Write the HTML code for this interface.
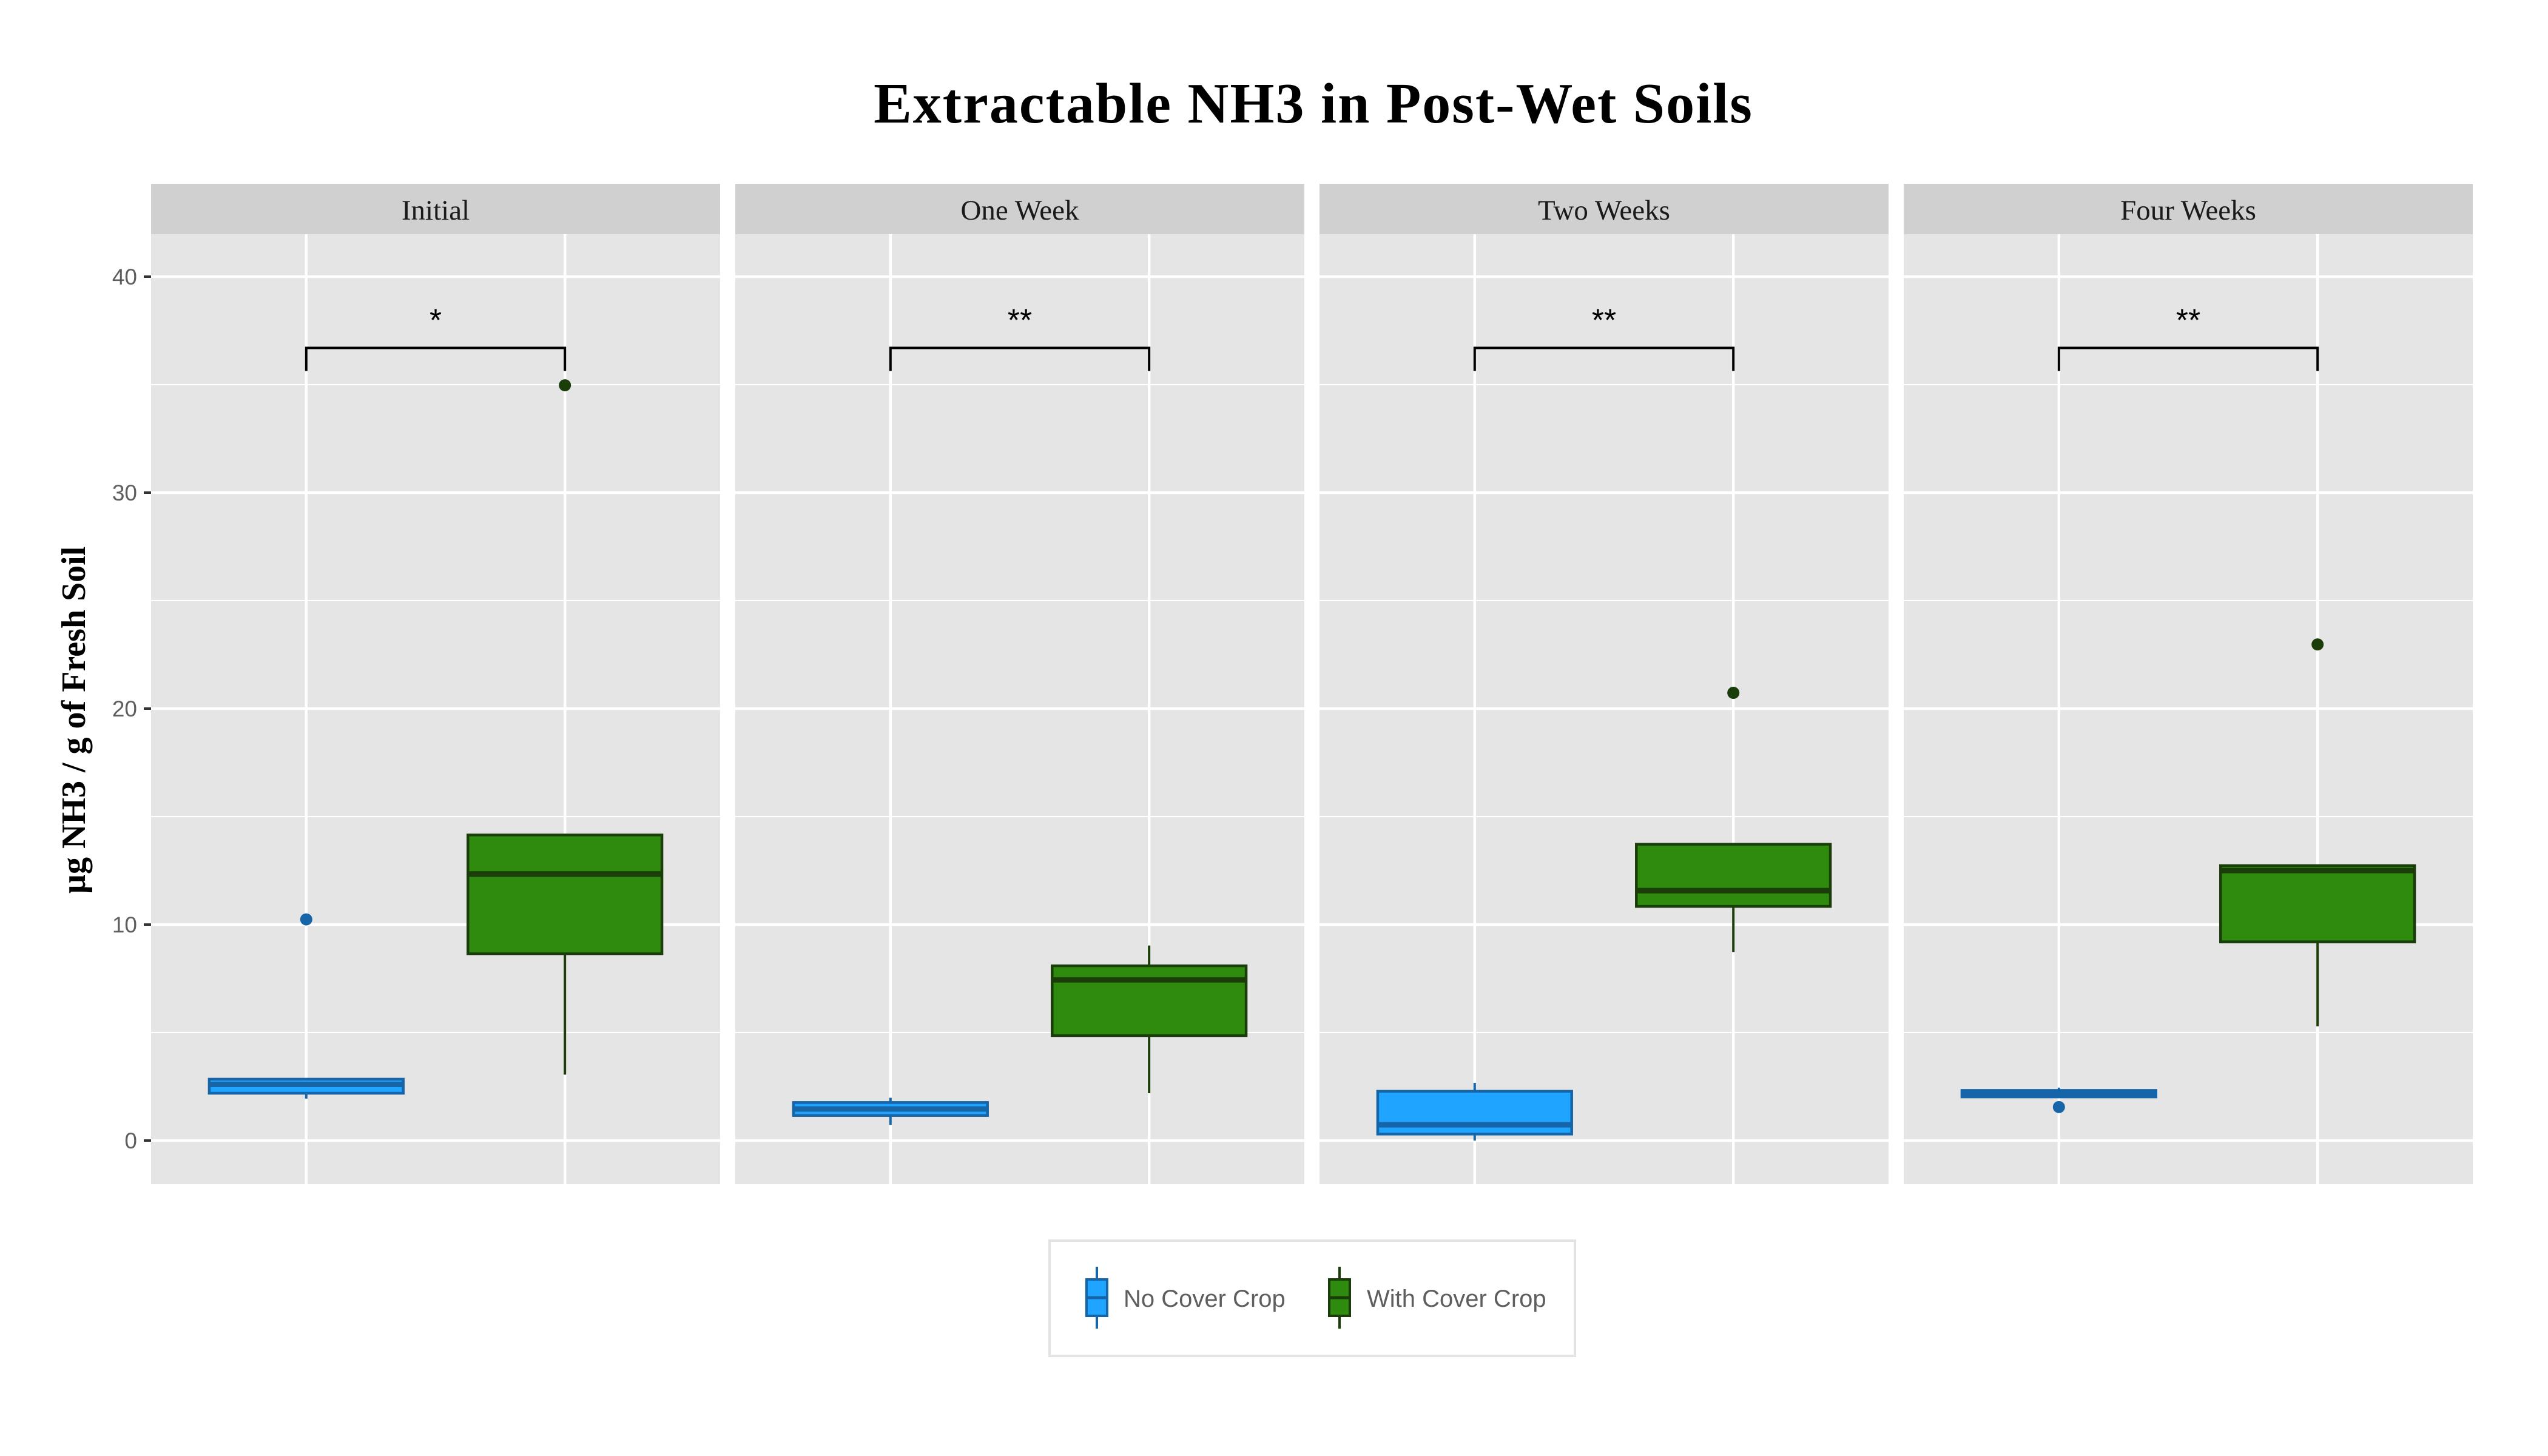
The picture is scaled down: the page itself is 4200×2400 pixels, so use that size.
<!DOCTYPE html>
<html><head><meta charset="utf-8"><style>
html,body{margin:0;padding:0;background:#fff;}
svg{display:block;}
</style></head><body>
<svg id="chart" width="4200" height="2400" viewBox="0 0 4200 2400" xmlns="http://www.w3.org/2000/svg">
<text x="2165" y="202" text-anchor="middle" font-family="Liberation Serif, serif" font-weight="bold" font-size="94" letter-spacing="2" fill="#000">Extractable NH3 in Post-Wet Soils</text>
<text transform="translate(140,1187) rotate(-90)" text-anchor="middle" font-family="Liberation Serif, serif" font-weight="bold" font-size="56" fill="#000">µg NH3 / g of Fresh Soil</text>
<g id="panels"></g>
<g transform="translate(-20,-22)">
<rect x="1750" y="2067" width="866" height="190" fill="#fff" stroke="#e3e3e3" stroke-width="4"/>
<g>
<line x1="1828" y1="2110" x2="1828" y2="2212" stroke="#1565a8" stroke-width="4"/>
<rect x="1811" y="2131" width="34" height="60" fill="#1fa5ff" stroke="#1565a8" stroke-width="4"/>
<line x1="1811" y1="2161" x2="1845" y2="2161" stroke="#1565a8" stroke-width="5"/>
<text x="1872" y="2176" font-family="Liberation Sans, sans-serif" font-size="40" fill="#5e5e5e">No Cover Crop</text>
</g>
<g>
<line x1="2228" y1="2110" x2="2228" y2="2212" stroke="#1a3d0a" stroke-width="4"/>
<rect x="2211" y="2131" width="34" height="60" fill="#2e8b0e" stroke="#1a3d0a" stroke-width="4"/>
<line x1="2211" y1="2161" x2="2245" y2="2161" stroke="#1a3d0a" stroke-width="5"/>
<text x="2273" y="2176" font-family="Liberation Sans, sans-serif" font-size="40" fill="#5e5e5e">With Cover Crop</text>
</g>
</g>
</svg>
<script>
const panelNames = ["Initial","One Week","Two Weeks","Four Weeks"];
const sigLabels = ["*","**","**","**"];
const yTicks = [0,10,20,30,40];
const yMinor = [5,15,25,35];
// per panel: [lowerWhisker, q1, median, q3, upperWhisker]
const noCover = [[1.94,2.19,2.6,2.84,2.84],[0.73,1.16,1.46,1.76,1.98],[0,0.30,0.73,2.28,2.67],[2.02,2.02,2.2,2.32,2.45]];
const withCover = [[3.05,8.65,12.34,14.15,14.15],[2.19,4.86,7.44,8.09,9.03],[8.73,10.84,11.57,13.72,13.72],[5.29,9.2,12.5,12.73,12.73]];
const noCoverOutliers = [[10.24],[],[],[1.55]];
const withCoverOutliers = [[34.97],[],[20.73],[22.97]];
const bracketY = [36.7,36.7,36.7,36.7];

const NS="http://www.w3.org/2000/svg";
const PANEL_W=938, PANEL_STEP=963, PANEL_X0=249, PLOT_TOP=386, PLOT_BOT=1952;
function y(v){return 1880 - v*35.6;}
function px(i){return PANEL_X0 + i*PANEL_STEP;}
function cx(i,c){return px(i) + PANEL_W*(c===0?0.6:1.6)/2.2;}
const halfW = PANEL_W*0.75/2.2/2;
function mk(tag,attrs,parent){const e=document.createElementNS(NS,tag);for(const k in attrs)e.setAttribute(k,attrs[k]);parent.appendChild(e);return e;}
const root=document.getElementById('panels');
const series=[{box:noCover,out:noCoverOutliers,fill:"#1fa5ff",stroke:"#1565a8",name:"no-cover-crop"},{box:withCover,out:withCoverOutliers,fill:"#2e8b0e",stroke:"#1a3d0a",name:"with-cover-crop"}];
panelNames.forEach((nm,i)=>{
  const g=mk('g',{},root);
  
  
  const bg=mk('rect',{x:px(i),y:PLOT_TOP,width:PANEL_W,height:PLOT_BOT-PLOT_TOP,fill:"#e5e5e5"},g);
  
  
  const st=mk('rect',{x:px(i),y:303,width:PANEL_W,height:83,fill:"#d0d0d0"},g);
  
  
  const stt=mk('text',{x:px(i)+PANEL_W/2,y:362,'text-anchor':'middle','font-family':'Liberation Serif, serif','font-size':47,fill:'#1a1a1a'},g);
  stt.textContent=nm;
  
  
  yMinor.forEach(v=>{mk('line',{x1:px(i),x2:px(i)+PANEL_W,y1:y(v),y2:y(v),stroke:'#fff','stroke-width':2},g);});
  yTicks.forEach(v=>{const l=mk('line',{x1:px(i),x2:px(i)+PANEL_W,y1:y(v),y2:y(v),stroke:'#fff','stroke-width':4.5},g);
    
    });
  [0,1].forEach(c=>{mk('line',{x1:cx(i,c),x2:cx(i,c),y1:PLOT_TOP,y2:PLOT_BOT,stroke:'#fff','stroke-width':4.5},g);});
  series.forEach((s,c)=>{
    const b=s.box[i], x=cx(i,c);
    const bx=mk('g',{},g);
    
    
    mk('line',{x1:x,x2:x,y1:y(b[0]),y2:y(b[1]),stroke:s.stroke,'stroke-width':4},bx);
    mk('line',{x1:x,x2:x,y1:y(b[3]),y2:y(b[4]),stroke:s.stroke,'stroke-width':4},bx);
    mk('rect',{x:x-halfW,y:y(b[3]),width:2*halfW,height:Math.max(0.5,y(b[1])-y(b[3])),fill:s.fill,stroke:s.stroke,'stroke-width':4.5},bx);
    mk('line',{x1:x-halfW,x2:x+halfW,y1:y(b[2]),y2:y(b[2]),stroke:s.stroke,'stroke-width':9},bx);
    s.out[i].forEach(v=>{const o=mk('circle',{cx:x,cy:y(v),r:10,fill:s.stroke},g);
      
      });
  });
  const x1=cx(i,0), x2=cx(i,1), yb=y(bracketY[i]);
  const br=mk('path',{d:`M${x1},${yb+38} V${yb} H${x2} V${yb+38}`,fill:'none',stroke:'#000','stroke-width':4},g);
  
  
  const sg=mk('text',{x:(x1+x2)/2,y:yb-28,'text-anchor':'middle','font-family':'Liberation Sans, sans-serif','font-size':52,fill:'#000'},g);
  sg.textContent=sigLabels[i];
  
  
});
yTicks.forEach(v=>{
  const t=mk('line',{x1:237,x2:249,y1:y(v),y2:y(v),stroke:'#333','stroke-width':4},root);
  
  
  const l=mk('text',{x:226,y:y(v)+13,'text-anchor':'end','font-family':'Liberation Sans, sans-serif','font-size':37,fill:'#5e5e5e'},root);
  l.textContent=v;
  
  
});
</script>
</body></html>
